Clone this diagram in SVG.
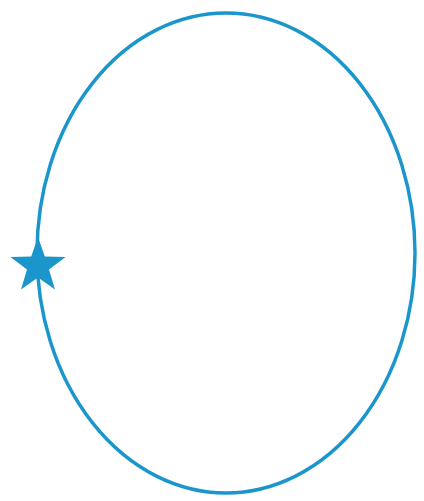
<svg xmlns="http://www.w3.org/2000/svg" width="424" height="501" viewBox="0 0 424 501">
<style>
.orbit{fill:none;stroke:#1b96cc;stroke-width:3.5}
.star{fill:#1b96cc}
</style>
<rect width="424" height="501" fill="#ffffff"/>
<g id="orbit"><ellipse class="orbit" cx="226" cy="253" rx="189" ry="240"/></g>
<g id="star"><polygon class="star" transform="translate(38,266)" points="0,-29 6.8,-9.4 27.6,-9 11,3.6 17,23.5 0,11.6 -17,23.5 -11,3.6 -27.6,-9 -6.8,-9.4"/></g>
</svg>
